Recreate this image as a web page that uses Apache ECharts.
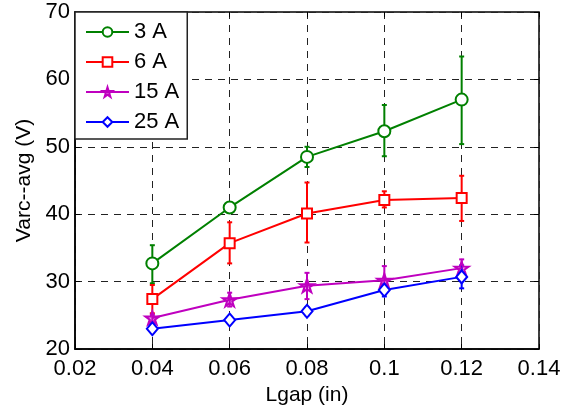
<!DOCTYPE html>
<html><head><meta charset="utf-8">
<script src="https://cdn.jsdelivr.net/npm/echarts@6/dist/echarts.min.js"></script>
<style>html,body{margin:0;padding:0;background:#fff}#c{width:573px;height:411px}</style>
</head><body><div id="c"></div>
<script>
const xVals = [0.04, 0.06, 0.08, 0.1, 0.12];
const xTicks = ['0.02','0.04','0.06','0.08','0.1','0.12','0.14'];
const yTicks = [20,30,40,50,60,70];
const names = ['3 A','6 A','15 A','25 A'];
const colors = ['#008000','#ff0000','#bf00bf','#0000ff'];
const v3 = [32.7, 41.0, 48.5, 52.3, 57.0];
const lo3 = [29.75, 40.7, 47.0, 48.6, 50.4];
const hi3 = [35.4, 41.3, 50.0, 56.2, 63.4];
const v6 = [27.4, 35.7, 40.1, 42.1, 42.4];
const lo6 = [25.3, 32.7, 35.8, 41.0, 39.0];
const hi6 = [29.5, 38.8, 44.7, 43.4, 45.7];
const v15 = [24.6, 27.3, 29.4, 30.2, 32.0];
const lo15 = [24.1, 26.3, 27.4, 28.5, 30.7];
const hi15 = [25.1, 28.35, 31.3, 32.3, 33.3];
const v25 = [23.0, 24.3, 25.6, 28.75, 30.7];
const lo25 = [22.5, 23.8, 25.0, 27.8, 29.0];
const hi25 = [23.5, 24.8, 26.2, 29.6, 32.4];

const vals=[v3,v6,v15,v25], los=[lo3,lo6,lo15,lo25], his=[hi3,hi6,hi15,hi25];
const starPath='path://M50,0 L61,35 L98,35 L68,57 L79,91 L50,70 L21,91 L32,57 L2,35 L39,35 Z';
const symbols=['emptyCircle','emptyRect',starPath,'emptyDiamond'];
const sizes=[12,10,[14,13],[11,13]];
const FONT='Liberation Sans, Arial, sans-serif';

const series=[];
for(let i=0;i<4;i++){
  series.push({
    name:names[i], type:'line', data:xVals.map((x,j)=>[x,vals[i][j]]),
    symbol:symbols[i], symbolSize:sizes[i], showAllSymbol:true,
    lineStyle:{color:colors[i],width:2},
    itemStyle:{color:i===2?'rgba(191,0,191,0.35)':colors[i],borderColor:colors[i],borderWidth:2},
    z:3
  });
  series.push({
    type:'custom', name:names[i]+' err', data:xVals.map((x,j)=>[x,los[i][j],his[i][j]]),
    renderItem:(params,api)=>{
      const a=api.coord([api.value(0),api.value(1)]);
      const b=api.coord([api.value(0),api.value(2)]);
      const w=2.5;
      const st={stroke:colors[i],lineWidth:2};
      return {type:'group',children:[
        {type:'line',shape:{x1:a[0],y1:a[1],x2:b[0],y2:b[1]},style:st},
        {type:'line',shape:{x1:a[0]-w,y1:a[1],x2:a[0]+w,y2:a[1]},style:st},
        {type:'line',shape:{x1:b[0]-w,y1:b[1],x2:b[0]+w,y2:b[1]},style:st}
      ]};
    },
    encode:{x:0,y:[1,2]}, z:2, silent:true
  });
}

const chart=echarts.init(document.getElementById('c'),null,{renderer:'canvas'});
const dash={type:[7,6],color:'#222',width:1};
chart.setOption({
  animation:false,
  backgroundColor:'#fff',
  grid:{left:75,right:34,top:12,bottom:62,containLabel:false,outerBoundsMode:'none',show:true,borderColor:'#000',borderWidth:1.5,backgroundColor:'transparent'},
  legend:{
    data:names,
    left:75,top:12,orient:'vertical',
    backgroundColor:'#fff',borderColor:'#222',borderWidth:1.5,
    padding:[9,8,6,10],itemGap:8,itemWidth:43,itemHeight:12,
    textStyle:{fontFamily:FONT,fontSize:22,color:'#000',padding:[0,0,0,0]}
  },
  xAxis:[{
    type:'value',min:0.02,max:0.14,interval:0.02,
    name:'Lgap (in)',nameLocation:'middle',nameGap:30,
    nameTextStyle:{fontFamily:FONT,fontSize:21,color:'#000'},
    axisLabel:{fontFamily:FONT,fontSize:22,color:'#000',margin:9,formatter:(v)=>xTicks[Math.round((v-0.02)/0.02)]},
    axisLine:{show:true,onZero:false,lineStyle:{color:'#000',width:1.5}},
    axisTick:{show:true,inside:true,length:5,lineStyle:{color:'#000'}},
    splitLine:{show:true,lineStyle:dash}
  },{
    type:'value',position:'top',min:0.02,max:0.14,interval:0.02,
    axisLabel:{show:false},axisLine:{show:false},
    axisTick:{show:true,inside:true,length:5,lineStyle:{color:'#000'}},splitLine:{show:false}
  }],
  yAxis:[{
    type:'value',min:20,max:70,interval:10,
    name:'Varc--avg (V)',nameLocation:'middle',nameGap:38,
    nameTextStyle:{fontFamily:FONT,fontSize:21,color:'#000'},
    axisLabel:{fontFamily:FONT,fontSize:22,color:'#000',margin:5},
    axisLine:{show:true,onZero:false,lineStyle:{color:'#000',width:1.5}},
    axisTick:{show:true,inside:true,length:5,lineStyle:{color:'#000'}},
    splitLine:{show:true,lineStyle:dash}
  },{
    type:'value',position:'right',min:20,max:70,interval:10,
    axisLabel:{show:false},axisLine:{show:false},
    axisTick:{show:true,inside:true,length:5,lineStyle:{color:'#000'}},splitLine:{show:false}
  }],
  series:series
});
</script></body></html>
